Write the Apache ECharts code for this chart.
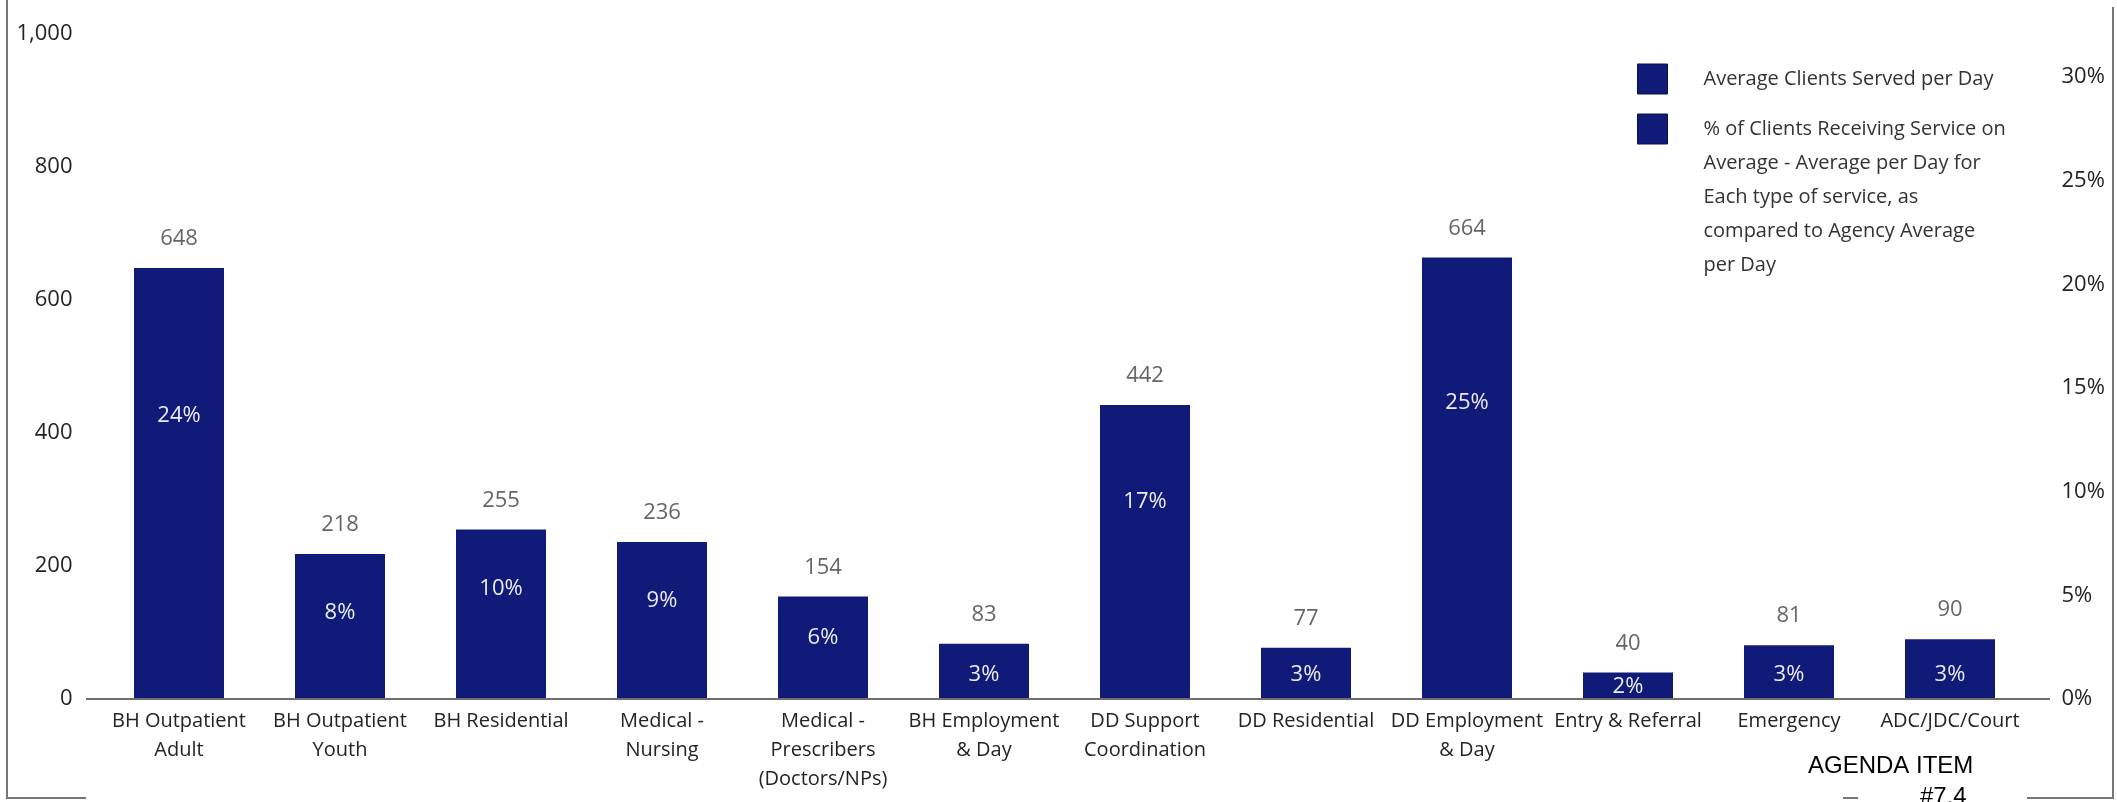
<!DOCTYPE html>
<html>
<head>
<meta charset="utf-8">
<script src="https://cdn.jsdelivr.net/npm/echarts@6/dist/echarts.min.js"></script>
<style>
html,body{margin:0;padding:0;background:#ffffff;}
#c{width:2117px;height:802px;}
</style>
</head>
<body>
<div id="c"></div>
<script>
// ---- data ----
const categories = [
  'BH Outpatient\nAdult', 'BH Outpatient\nYouth', 'BH Residential', 'Medical -\nNursing',
  'Medical -\nPrescribers\n(Doctors/NPs)', 'BH Employment\n& Day', 'DD Support\nCoordination',
  'DD Residential', 'DD Employment\n& Day', 'Entry & Referral', 'Emergency', 'ADC/JDC/Court'
];
const clientsPerDay = [648, 218, 255, 236, 154, 83, 442, 77, 664, 40, 81, 90];
const pctOfClients = [24, 8, 10, 9, 6, 3, 17, 3, 25, 2, 3, 3];
const leftTicks = [0, 200, 400, 600, 800, 1000];
const rightTicks = [0, 5, 10, 15, 20, 25, 30];
const seriesCountName = 'Average Clients Served per Day';
const seriesPctName = '% of Clients Receiving Service on Average - Average per Day for Each type of service, as compared to Agency Average per Day';
const seriesPctLegendLines = ['% of Clients Receiving Service on', 'Average - Average per Day for', 'Each type of service, as', 'compared to Agency Average', 'per Day'];
const annotationLines = ['AGENDA ITEM', '#7.4'];

// ---- style ----
const NAVY = '#101a78';
const FONT = "'Segoe UI', 'Open Sans', sans-serif";
const TXT = '#252423';
const LEG_LH = 34;

const chart = echarts.init(document.getElementById('c'), null, {renderer: 'canvas'});

// blank lines above the wrapped legend text so that its first line sits level with the icon
const padLines = seriesPctLegendLines.length - 1;
const pctLegendText = '\n'.repeat(padLines) + seriesPctLegendLines.join('\n');

const option = {
  animation: false,
  backgroundColor: '#ffffff',
  textStyle: {fontFamily: FONT},
  grid: {left: 98.5, right: 86.5, top: 34, bottom: 103, containLabel: false},
  legend: {
    orient: 'vertical',
    left: 1637,
    top: -24,
    padding: 0,
    itemWidth: 30,
    itemHeight: 30,
    itemGap: 16 - LEG_LH * padLines,
    icon: 'rect',
    selectedMode: false,
    itemStyle: {borderColor: '#0a104f', borderWidth: 1, opacity: 1},
    textStyle: {fontFamily: FONT, fontSize: 20, color: '#333333', lineHeight: LEG_LH, padding: [0, 0, 0, 31]},
    formatter: function (name) {
      return name === seriesPctName ? pctLegendText : name;
    },
    data: [seriesCountName, seriesPctName]
  },
  xAxis: {
    type: 'category',
    data: categories,
    axisLine: {show: true, lineStyle: {color: '#6e6e6e', width: 2}},
    axisTick: {show: false},
    axisLabel: {
      interval: 0, margin: 8, fontFamily: FONT, fontSize: 20, color: TXT, lineHeight: 29
    }
  },
  yAxis: [
    {
      type: 'value', min: leftTicks[0], max: leftTicks[leftTicks.length - 1],
      interval: leftTicks[1] - leftTicks[0],
      splitLine: {show: false}, axisLine: {show: false}, axisTick: {show: false},
      axisLabel: {
        margin: 26, fontFamily: FONT, fontSize: 22, color: TXT,
        formatter: function (v) { return v.toLocaleString('en-US'); }
      }
    },
    {
      type: 'value', position: 'right', min: rightTicks[0], max: 32.08,
      interval: rightTicks[1] - rightTicks[0],
      splitLine: {show: false}, axisLine: {show: false}, axisTick: {show: false},
      axisLabel: {
        margin: 31, fontFamily: FONT, fontSize: 22, color: TXT, showMaxLabel: false,
        formatter: function (v) { return v + '%'; }
      }
    },
    {
      type: 'value', show: false, min: 1.04, max: 54.9
    }
  ],
  series: [
    {
      name: seriesCountName,
      type: 'bar',
      data: clientsPerDay,
      yAxisIndex: 0,
      barWidth: 90,
      itemStyle: {color: NAVY},
      label: {
        show: true, position: 'top', distance: 18,
        fontFamily: FONT, fontSize: 22, color: '#666666'
      },
      z: 2
    },
    {
      name: seriesPctName,
      type: 'line',
      data: pctOfClients,
      yAxisIndex: 2,
      symbol: 'circle',
      symbolSize: 1,
      itemStyle: {color: NAVY},
      lineStyle: {width: 0, opacity: 0},
      label: {
        show: true, position: 'inside',
        fontFamily: FONT, fontSize: 22, color: '#ececf3',
        formatter: function (p) { return p.value + '%'; }
      },
      z: 5
    }
  ]
};

chart.setOption(option);

const y0 = chart.convertToPixel({yAxisIndex: 0}, 0);
chart.setOption({
  graphic: [
    {type: 'line', shape: {x1: 86, y1: y0, x2: 2050, y2: y0}, style: {stroke: '#6e6e6e', lineWidth: 2}, z: 10},
    {type: 'polyline', shape: {points: [[7, 0], [7, 798], [86, 798]]}, style: {stroke: '#767676', lineWidth: 2, fill: null}},
    {type: 'polyline', shape: {points: [[2113, 7], [2113, 798], [2027, 798]]}, style: {stroke: '#767676', lineWidth: 2, fill: null}},
    {type: 'line', shape: {x1: 1843, y1: 798, x2: 1858, y2: 798}, style: {stroke: '#767676', lineWidth: 2}},
    {type: 'text', x: 1808, y: 766, style: {text: annotationLines[0], font: "24px 'Liberation Sans', Arial, sans-serif", fill: '#000000', textAlign: 'left', textVerticalAlign: 'middle'}},
    {type: 'text', x: 1920, y: 797, style: {text: annotationLines[1], font: "24px 'Liberation Sans', Arial, sans-serif", fill: '#000000', textAlign: 'left', textVerticalAlign: 'middle'}}
  ]
});
</script>
</body>
</html>
